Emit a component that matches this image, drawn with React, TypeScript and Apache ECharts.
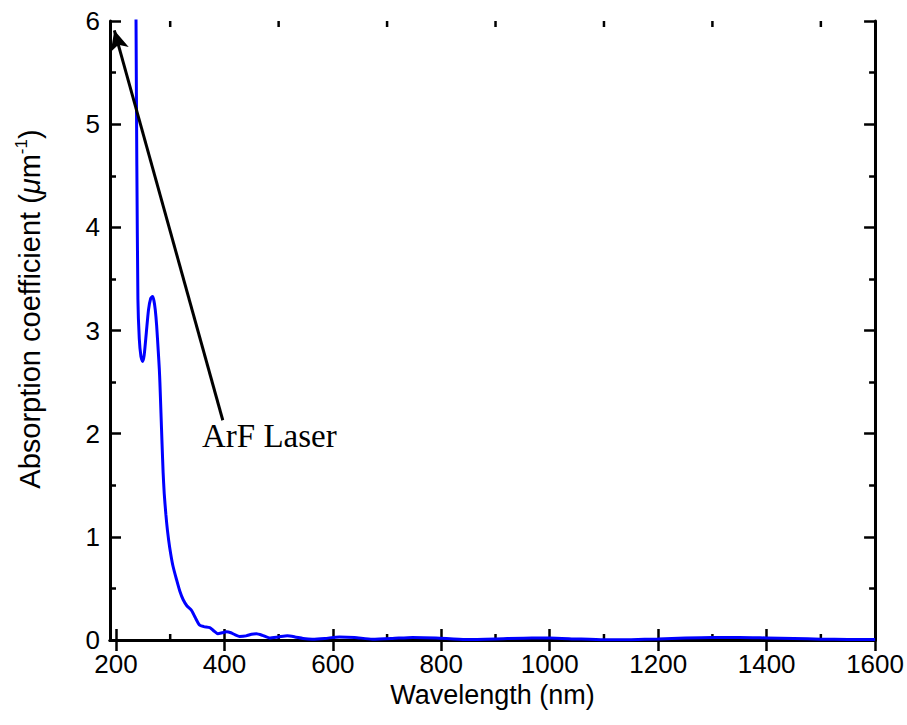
import React, { useEffect, useRef } from "react";
import * as echarts from "echarts";

const wavelength = [236, 237, 238.5, 240.5, 243, 246, 249, 252, 256, 260, 264, 267.5, 270, 272.5, 275, 278, 280, 281, 283, 285, 287, 289, 292, 295, 299, 305, 312, 318, 324, 331, 339, 346, 354, 362, 373, 380, 388, 396, 404, 412, 420, 428, 440, 450, 459, 470, 483, 500, 516, 530, 545, 562, 585, 612, 640, 673, 710, 747, 790, 845, 900, 967, 1000, 1050, 1100, 1150, 1200, 1250, 1300, 1350, 1400, 1450, 1500, 1550, 1600];
const absorption = [7.5, 6.0, 4.6, 3.3, 2.92, 2.75, 2.7, 2.76, 2.98, 3.2, 3.31, 3.33, 3.29, 3.2, 3.05, 2.8, 2.62, 2.5, 2.2, 1.9, 1.62, 1.42, 1.22, 1.06, 0.9, 0.72, 0.58, 0.47, 0.39, 0.33, 0.29, 0.22, 0.145, 0.13, 0.12, 0.09, 0.06, 0.07, 0.08, 0.07, 0.05, 0.035, 0.04, 0.055, 0.06, 0.045, 0.02, 0.03, 0.04, 0.03, 0.015, 0.008, 0.015, 0.03, 0.025, 0.008, 0.015, 0.025, 0.02, 0.005, 0.01, 0.02, 0.02, 0.01, 0.002, 0.003, 0.01, 0.02, 0.025, 0.025, 0.02, 0.015, 0.008, 0.005, 0.004];

const xMajorTicks = [200, 400, 600, 800, 1000, 1200, 1400, 1600];
const xMinorTicks = [300, 500, 700, 900, 1100, 1300, 1500];
const xMin = 189;
const xMax = 1600;

const arrowTail = [397, 2.13];
const arrowTip = [197, 5.91];
const annotationText = "ArF Laser";

const FONT = "Liberation Sans, Arial, sans-serif";

export default function App() {
  const ref = useRef<HTMLDivElement>(null);
  useEffect(() => {
    if (!ref.current) return;
    const chart = echarts.init(ref.current, undefined, { renderer: "svg" });
    const axisLine = { show: true, lineStyle: { color: "#000", width: 3 } };
    const majorTick = { show: true, inside: true, length: 11, lineStyle: { color: "#000", width: 2.5 } };
    const minorTick = { show: true, splitNumber: 2, length: 6, lineStyle: { color: "#000", width: 2.5 } };
    chart.setOption({
      animation: false,
      backgroundColor: "#fff",
      grid: { left: 110, right: 30, top: 21, bottom: 85, containLabel: false },
      xAxis: [
        {
          type: "value",
          position: "bottom",
          min: xMin,
          max: xMax,
          axisLine,
          axisTick: { ...majorTick, customValues: xMajorTicks },
          axisLabel: {
            customValues: xMajorTicks,
            formatter: (v: number) => String(v),
            color: "#000",
            fontSize: 26,
            fontFamily: FONT,
            margin: 11,
          },
          splitLine: { show: false },
          name: "Wavelength (nm)",
          nameLocation: "middle",
          nameGap: 38,
          nameTextStyle: { color: "#000", fontSize: 27, fontFamily: FONT },
        },
        {
          type: "value",
          position: "top",
          min: xMin,
          max: xMax,
          axisLine,
          axisTick: { ...majorTick, customValues: xMajorTicks },
          axisLabel: { show: false },
          splitLine: { show: false },
        },
      ],
      yAxis: [
        {
          type: "value",
          position: "left",
          min: 0,
          max: 6,
          interval: 1,
          axisLine,
          axisTick: majorTick,
          minorTick,
          axisLabel: { color: "#000", fontSize: 26, fontFamily: FONT, margin: 10 },
          splitLine: { show: false },
          minorSplitLine: { show: false },
        },
        {
          type: "value",
          position: "right",
          min: 0,
          max: 6,
          interval: 1,
          axisLine,
          axisTick: majorTick,
          minorTick,
          axisLabel: { show: false },
          splitLine: { show: false },
          minorSplitLine: { show: false },
        },
      ],
      graphic: [
        {
          type: "text",
          x: 30,
          y: 309,
          rotation: Math.PI / 2,
          style: {
            text: "{a|Absorption coefficient (}{mu|\u03bc}{a|m}{sup|-1}{a|)}",
            align: "center",
            verticalAlign: "middle",
            rich: {
              a: { fontSize: 29, fontFamily: FONT, fill: "#000", lineHeight: 35 },
              mu: { fontSize: 29, fontFamily: FONT, fontStyle: "italic", fill: "#000", lineHeight: 35 },
              sup: { fontSize: 17, fontFamily: FONT, fill: "#000", verticalAlign: "top", lineHeight: 35 },
            },
          },
        },
        {
          type: "text",
          x: 202,
          y: 419,
          style: {
            text: annotationText,
            fontSize: 33,
            fontFamily: "Liberation Serif, Times New Roman, serif",
            fill: "#000",
          },
        },
      ],
      series: [
        {
          type: "line",
          data: wavelength.map((w, i) => [w, absorption[i]]),
          xAxisIndex: 0,
          yAxisIndex: 0,
          showSymbol: false,
          smooth: 0.2,
          clip: true,
          lineStyle: { color: "#0000ff", width: 3 },
          markLine: {
            silent: true,
            symbol: ["none", "arrow"],
            symbolSize: [14, 20],
            label: { show: false },
            lineStyle: { color: "#000", width: 3, type: "solid" },
            emphasis: { disabled: true },
            data: [[{ coord: arrowTail }, { coord: arrowTip }]],
          },
        },
        {
          type: "custom",
          xAxisIndex: 0,
          yAxisIndex: 0,
          clip: false,
          silent: true,
          data: xMinorTicks.map((v) => [v]),
          encode: { x: 0 },
          renderItem: (params: any, api: any) => {
            const v = api.value(0);
            const pb = api.coord([v, 0]);
            const pt = api.coord([v, 6]);
            const style = { stroke: "#000", lineWidth: 2.5 };
            return {
              type: "group",
              children: [
                { type: "line", shape: { x1: pb[0], y1: pb[1], x2: pb[0], y2: pb[1] - 6 }, style },
                { type: "line", shape: { x1: pt[0], y1: pt[1], x2: pt[0], y2: pt[1] + 6 }, style },
              ],
            };
          },
        },
      ],
    });
    return () => chart.dispose();
  }, []);
  return (
    <div
      ref={ref}
      style={{ position: "absolute", left: 0, top: 0, width: 907, height: 725 }}
    />
  );
}
